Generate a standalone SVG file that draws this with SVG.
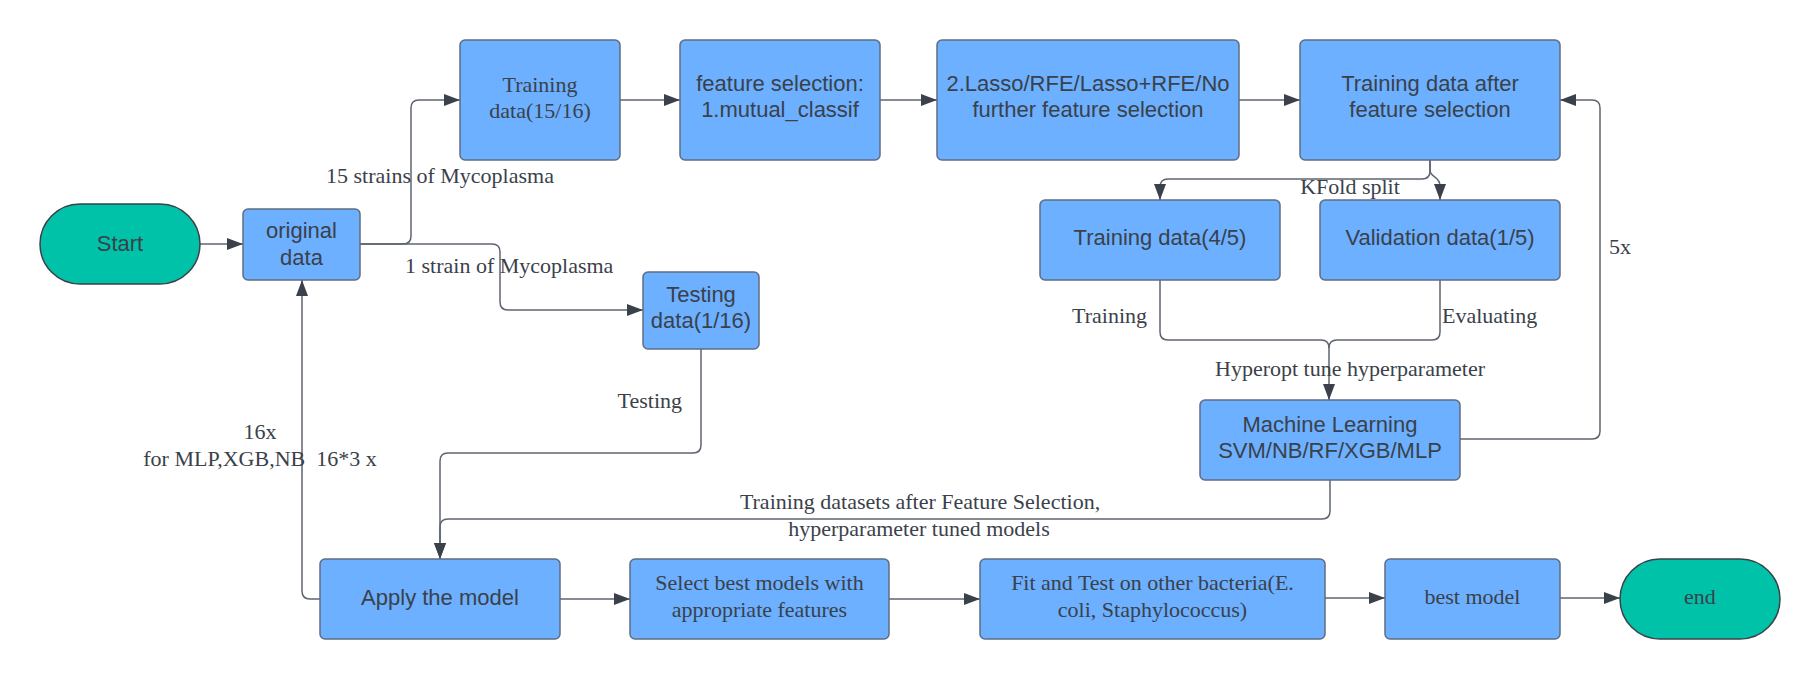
<svg xmlns="http://www.w3.org/2000/svg" width="1820" height="679" viewBox="0 0 1820 679">
<defs>
<marker id="arr" markerUnits="userSpaceOnUse" markerWidth="16" markerHeight="12" refX="16" refY="6" orient="auto">
<path d="M0,0 L16,6 L0,12 z" fill="#3a414a"/>
</marker>
<style>
.box{fill:#6cb0ff;stroke:#5e6c84;stroke-width:1.5}
.term{fill:#00c2a8;stroke:#3a414a;stroke-width:1.5}
.s{font-family:"Liberation Sans",Arial,sans-serif;font-size:22px;fill:#3a414a;text-anchor:middle}
.r{font-family:"Liberation Serif","Times New Roman",serif;font-size:22px;fill:#3a414a;text-anchor:middle}
.lbl{font-family:"Liberation Serif","Times New Roman",serif;font-size:22px;fill:#3a414a}
.c{fill:none;stroke:#5e6470;stroke-width:1.5;marker-end:url(#arr)}
.cn{fill:none;stroke:#5e6470;stroke-width:1.5}
</style>
</defs>
<rect width="1820" height="679" fill="#ffffff"/>

<g id="connectors">
<path class="c" d="M200,244 H243"/>
<path class="c" d="M360,244 H403 Q411,244 411,236 V108 Q411,100 419,100 H460"/>
<path class="c" d="M360,244 H492 Q500,244 500,252 V302 Q500,310 508,310 H643"/>
<path class="c" d="M620,100 H680"/>
<path class="c" d="M880,100 H937"/>
<path class="c" d="M1239,100 H1300"/>
<path class="c" d="M1430,160 V171 Q1430,179 1422,179 H1168 Q1160,179 1160,187 V200"/>
<path class="c" d="M1430,160 V170 C1430,178 1440,176 1440,186 V200"/>
<path class="cn" d="M1160,280 V332 Q1160,340 1168,340 H1321 Q1329,340 1329,348"/>
<path class="c" d="M1440,280 V332 Q1440,340 1432,340 H1337 Q1329,340 1329,348 V400"/>
<path class="c" d="M1460,439 H1592 Q1600,439 1600,431 V108 Q1600,100 1592,100 H1560"/>
<path class="c" d="M701,349 V445 Q701,453 693,453 H448 Q440,453 440,461 V559"/>
<path class="c" d="M1330,480 V511 Q1330,519 1322,519 H448 Q440,519 440,527 V559"/>
<path class="c" d="M320,599 H310 Q302,599 302,591 V280"/>
<path class="c" d="M560,599 H630"/>
<path class="c" d="M889,599 H980"/>
<path class="c" d="M1325,598 H1385"/>
<path class="c" d="M1560,598 H1620"/>
<text class="lbl" x="326" y="183">15 strains of Mycoplasma</text>
<text class="lbl" x="405" y="273">1 strain of Mycoplasma</text>
<text class="lbl" x="682" y="408" text-anchor="end">Testing</text>
<text class="r" x="260" y="439">16x</text>
<text class="r" x="260" y="466" style="white-space:pre">for MLP,XGB,NB  16*3 x</text>
<text class="r" x="1350" y="194">KFold split</text>
<text class="lbl" x="1147" y="323" text-anchor="end">Training</text>
<text class="lbl" x="1442" y="323">Evaluating</text>
<text class="r" x="1350" y="376">Hyperopt tune hyperparameter</text>
<text class="lbl" x="1609" y="254">5x</text>
<text class="r" x="920" y="509">Training datasets after Feature Selection,</text>
<text class="r" x="919" y="536">hyperparameter tuned models</text>
</g>

<g id="start">
<rect class="term" x="40" y="204" width="160" height="80" rx="40"/>
<text class="s" x="120" y="251">Start</text>
</g>
<g id="original-data">
<rect class="box" x="243" y="209" width="117" height="71" rx="5"/>
<text class="s" x="301.5" y="238">original</text>
<text class="s" x="301.5" y="265">data</text>
</g>
<g id="training-data-15-16">
<rect class="box" x="460" y="40" width="160" height="120" rx="5"/>
<text class="r" x="540" y="92">Training</text>
<text class="r" x="540" y="118">data(15/16)</text>
</g>
<g id="feature-selection">
<rect class="box" x="680" y="40" width="200" height="120" rx="5"/>
<text class="s" x="780" y="91">feature selection:</text>
<text class="s" x="780" y="117">1.mutual_classif</text>
</g>
<g id="lasso-rfe">
<rect class="box" x="937" y="40" width="302" height="120" rx="5"/>
<text class="s" x="1088" y="91">2.Lasso/RFE/Lasso+RFE/No</text>
<text class="s" x="1088" y="117">further feature selection</text>
</g>
<g id="training-after-fs">
<rect class="box" x="1300" y="40" width="260" height="120" rx="5"/>
<text class="s" x="1430" y="91">Training data after</text>
<text class="s" x="1430" y="117">feature selection</text>
</g>
<g id="training-data-4-5">
<rect class="box" x="1040" y="200" width="240" height="80" rx="5"/>
<text class="s" x="1160" y="245">Training data(4/5)</text>
</g>
<g id="validation-data">
<rect class="box" x="1320" y="200" width="240" height="80" rx="5"/>
<text class="s" x="1440" y="245">Validation data(1/5)</text>
</g>
<g id="machine-learning">
<rect class="box" x="1200" y="400" width="260" height="80" rx="5"/>
<text class="s" x="1330" y="432">Machine Learning</text>
<text class="s" x="1330" y="458">SVM/NB/RF/XGB/MLP</text>
</g>
<g id="testing-data">
<rect class="box" x="643" y="272" width="116" height="77" rx="5"/>
<text class="s" x="701" y="302">Testing</text>
<text class="s" x="701" y="328">data(1/16)</text>
</g>
<g id="apply-model">
<rect class="box" x="320" y="559" width="240" height="80" rx="5"/>
<text class="s" x="440" y="605">Apply the model</text>
</g>
<g id="select-best">
<rect class="box" x="630" y="559" width="259" height="80" rx="5"/>
<text class="r" x="759.5" y="590">Select best models with</text>
<text class="r" x="759.5" y="617">appropriate features</text>
</g>
<g id="fit-test">
<rect class="box" x="980" y="559" width="345" height="80" rx="5"/>
<text class="r" x="1152.5" y="590">Fit and Test on other bacteria(E.</text>
<text class="r" x="1152.5" y="617">coli, Staphylococcus)</text>
</g>
<g id="best-model">
<rect class="box" x="1385" y="559" width="175" height="80" rx="5"/>
<text class="r" x="1472.5" y="604">best model</text>
</g>
<g id="end">
<rect class="term" x="1620" y="559" width="160" height="80" rx="40"/>
<text class="r" x="1700" y="604">end</text>
</g>
</svg>
